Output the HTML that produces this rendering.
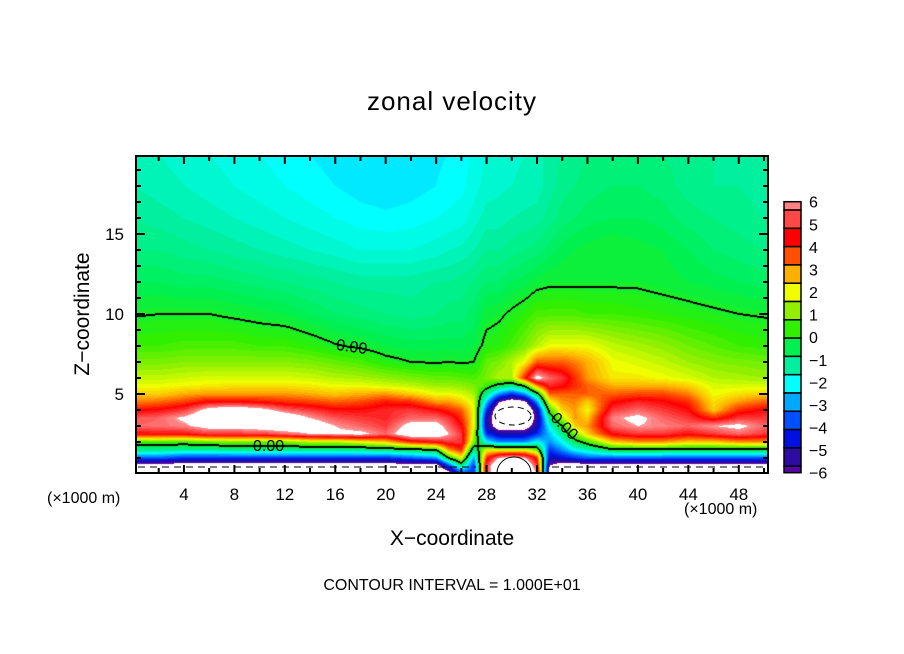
<!DOCTYPE html>
<html><head><meta charset="utf-8">
<style>
html,body{margin:0;padding:0;background:#fff;}
#wrap{position:relative;width:904px;height:654px;overflow:hidden;font-family:"Liberation Sans",sans-serif;color:#000;}
.t{position:absolute;white-space:nowrap;}
canvas{position:absolute;}
svg{position:absolute;left:0;top:0;}
</style></head>
<body>
<div id="wrap">
<div class="t" style="left:0;width:904px;text-align:center;top:86px;font-size:26px;letter-spacing:1px;">zonal velocity</div>
<canvas id="field" width="632" height="317" style="left:136px;top:156px;"></canvas>
<svg id="ov" width="904" height="654"></svg>
<div class="t" style="left:-5px;top:300px;width:180px;text-align:center;font-size:21px;transform:rotate(-90deg);transform-origin:90px 14px;">Z−coordinate</div>
<div class="t" style="left:0;width:904px;text-align:center;top:527px;font-size:21px;">X−coordinate</div>
<div class="t" style="left:47px;top:490px;font-size:16px;">(×1000 m)</div>
<div class="t" style="left:684px;top:501px;font-size:16px;">(×1000 m)</div>
<div class="t" style="left:0;width:904px;text-align:center;top:577px;font-size:16px;">CONTOUR INTERVAL = 1.000E+01</div>
<div class="t" style="left:336px;top:339px;font-size:16px;transform:rotate(8deg);">0.00</div>
<div class="t" style="left:253px;top:438px;font-size:16px;">0.00</div>
<div class="t" style="left:548px;top:418px;font-size:16px;transform:rotate(45deg);">0.00</div>
</div>
<script>
const xLevels=[0,2,4,6,8,10,12,14,16,18,20,22,24,25,26,27,28,29,30,31,32,33,34,35,36,38,40,42,44,46,48,50];
const zLevels=[0,0.5,1,1.5,2,2.5,3,3.5,4,4.5,5,5.5,6,7,8,10,12,14,16,18,20];
const u=[
[-8,-7,-3.5,-1,0.5,4.5,5.5,5.3,4.3,3.2,2.5,2,1.6,1,0.5,-0.05,-0.5,-0.9,-1.1,-1.3,-1.4],
[-8,-7,-3.5,-1,0.6,4.5,5.6,5.5,4.5,3.4,2.5,2,1.6,1,0.5,0,-0.5,-0.9,-1.2,-1.4,-1.5],
[-8,-7,-4,-1.2,0.5,4.5,5.8,6.2,5,3.8,2.8,2.1,1.7,1.1,0.6,0,-0.6,-1.0,-1.3,-1.5,-1.6],
[-8,-7,-4,-1.2,0.8,5,6.5,7,6.5,4.5,3,2.2,1.8,1.1,0.6,0,-0.6,-1.1,-1.4,-1.6,-1.7],
[-8,-7,-4,-1,1,5,6.5,7.5,7,4.5,3,2.3,1.8,1.1,0.6,-0.1,-0.7,-1.2,-1.5,-1.7,-1.8],
[-8,-7,-4,-1,1,5,6.8,7.5,6.5,4.3,3,2.3,1.8,1.1,0.5,-0.2,-0.8,-1.3,-1.6,-1.8,-1.9],
[-8,-7,-4,-1,1,5.5,7,7,5.5,4,3,2.3,1.8,1.1,0.5,-0.3,-0.9,-1.4,-1.7,-1.9,-2.0],
[-8,-7,-4,-1,1.5,6,6.8,6,5,3.8,2.8,2.2,1.7,1,0.3,-0.5,-1.0,-1.5,-1.8,-2.0,-2.1],
[-8,-7,-4,-1,1.5,6.2,6,5.3,4.5,3.5,2.6,2,1.5,0.8,0.05,-0.7,-1.1,-1.6,-1.9,-2.1,-2.2],
[-8,-7,-4,-1,2,6.3,5.5,5,4.5,3.7,2.8,2,1.4,0.6,-0.1,-0.8,-1.2,-1.7,-2.0,-2.2,-2.3],
[-8,-7,-4,-0.8,2.5,5.5,5,4.8,4.8,4.2,3,1.8,1.2,0.2,-0.3,-0.9,-1.2,-1.7,-2.05,-2.25,-2.3],
[-8,-7,-3.5,-0.5,4,7,6.5,5.5,5,4,2.5,1.6,1,0,-0.4,-1.0,-1.2,-1.7,-2.0,-2.2,-2.25],
[-8,-7,-3,0,4.5,7,6.5,5.5,4.5,3,2,1.3,0.8,-0.05,-0.4,-0.9,-1.1,-1.6,-1.9,-2.1,-2.15],
[-7,-4,0,3,5,6,5.5,5,4,3,2,1.3,0.8,0,-0.4,-0.8,-1.1,-1.5,-1.85,-2.0,-2.1],
[-4,-1,2,4,5,5,4.5,4,3.5,2.5,1.8,1.2,0.7,-0.05,-0.4,-0.8,-1.0,-1.45,-1.8,-1.95,-2.0],
[-4,-4,-3,-1,1,1.5,2,2,2,1.8,1.4,1,0.6,0,-0.3,-0.6,-0.9,-1.3,-1.6,-1.8,-1.85],
[5,5,4,2,-2,-4,-5,-5,-4,-2.5,-1,0.5,1,0.8,0.2,-0.2,-0.7,-1.1,-1.4,-1.6,-1.7],
[8,8,6,2,-3,-5,-7,-7.5,-7.5,-6,-3,-0.5,1.5,1,0.3,-0.1,-0.7,-1.1,-1.4,-1.55,-1.6],
[8,8,6.5,2,-3,-5,-7,-8,-8,-7,-4,-1,1.5,1.5,0.6,0.1,-0.5,-1.0,-1.3,-1.5,-1.55],
[8,8,6,2,-3,-5,-7,-8,-8,-6.5,-3,0,4,2,1,0.3,-0.4,-0.9,-1.25,-1.45,-1.5],
[6,5,4,1,-2,-4,-5,-5.5,-5,-3,-0.5,3,6.5,3.5,1.5,0.6,-0.2,-0.8,-1.2,-1.4,-1.4],
[-7,-6,-5,-4,-3,-2.5,-1.8,-0.8,0.5,2,3.5,4.8,5.5,3.5,2,0.6,-0.1,-0.6,-1,-1.2,-1.2],
[-8,-7,-4.5,-3,-2,-1,0,1.5,2.5,3,3.5,4.5,5,3.5,2,0.6,-0.1,-0.4,-0.8,-1.0,-1.1],
[-8,-7,-4,-2,-0.5,1,2.5,3,3,3.2,3.5,4,4,3.2,2,0.6,-0.1,-0.3,-0.7,-0.9,-1.0],
[-8,-7,-3.5,-1.5,0.5,2.5,3,2.5,2,2.5,3.5,3.5,3,2.8,2,0.5,-0.1,-0.2,-0.6,-0.8,-0.9],
[-8,-7,-3.5,-0.3,2.5,4.5,5.5,5.8,5,4.3,3.5,2.8,2.2,2,1.6,0.5,-0.1,-0.1,-0.5,-0.7,-0.8],
[-8,-7,-3.5,-0.3,3,5,6,6.3,5.5,4.8,3.7,2.8,2.2,1.8,1.4,0.4,-0.1,-0.2,-0.5,-0.7,-0.8],
[-8,-7,-3.5,-0.3,3,5,5.8,5.5,5,4.5,3.7,2.8,2,1.6,1.2,0.3,-0.2,-0.3,-0.6,-0.8,-0.9],
[-8,-7,-3.5,-0.4,2.5,4.5,5.5,5,4.5,4,3.2,2.5,1.8,1.3,0.9,0.2,-0.3,-0.5,-0.8,-1.0,-1.0],
[-8,-7,-3.5,-0.4,2.5,5,6,4,2.5,2.3,2,1.8,1.5,1.1,0.7,0.1,-0.4,-0.7,-0.9,-1.1,-1.1],
[-8,-7,-3.5,-0.4,3,5.5,6.3,5,4,3,2.3,1.8,1.4,1,0.5,0,-0.5,-0.8,-1,-1.1,-1.2],
[-8,-7,-3.5,-0.4,3,5,5.5,5,4.5,3.5,2.5,1.8,1.3,0.9,0.4,-0.05,-0.6,-0.9,-1.1,-1.2,-1.2]
];
const cbTicks=[6,5,4,3,2,1,0,-1,-2,-3,-4,-5,-6];
const xTicks=[4,8,12,16,20,24,28,32,36,40,44,48];
const zTicks=[5,10,15];

const stops=[[-6,[106,0,168]],[-5.2,[26,16,160]],[-4.4,[0,16,224]],[-3.6,[0,80,255]],[-2.8,[0,168,255]],[-2.0,[0,255,255]],[-1.2,[0,240,160]],[-0.4,[0,240,80]],[0.4,[48,240,0]],[1.2,[144,240,0]],[2.0,[240,255,0]],[2.8,[255,176,0]],[3.6,[255,80,0]],[4.4,[255,0,0]],[5.2,[255,72,72]],[6,[255,150,150]]];
function cmap(v){
  if(v>6||v<-6) return [255,255,255];
  v=Math.round(v*5)/5;
  for(let i=0;i<stops.length-1;i++){
    const a=stops[i],b=stops[i+1];
    if(v<=b[0]){const t=(v-a[0])/(b[0]-a[0]);return [0,1,2].map(k=>Math.round(a[1][k]+(b[1][k]-a[1][k])*t));}
  }
  return stops[stops.length-1][1];
}
function xPix(x){return 133.5+12.61*x;}
function zPix(z){return 474-16*z;}
function locate(arr,v){
  if(v<=arr[0]) return [0,0];
  for(let i=0;i<arr.length-1;i++){ if(v<=arr[i+1]) return [i,(v-arr[i])/(arr[i+1]-arr[i])]; }
  return [arr.length-2,1];
}
function field(x,z){
  const [i,tx]=locate(xLevels,x), [j,tz]=locate(zLevels,z);
  const a=u[i][j],b=u[i+1][j],c=u[i][j+1],d=u[i+1][j+1];
  return (a*(1-tx)+b*tx)*(1-tz)+(c*(1-tx)+d*tx)*tz;
}
const cv=document.getElementById('field'),ctx=cv.getContext('2d');
const W=cv.width,H=cv.height,img=ctx.createImageData(W,H);
const vals=new Float32Array(W*H);
for(let py=0;py<H;py++)for(let px=0;px<W;px++){
  const x=(136+px+0.5-133.5)/12.61, z=(474-(156+py+0.5))/16;
  vals[py*W+px]=field(x,z);
}
for(let p=0;p<W*H;p++){
  const px=p%W,py=(p/W)|0,v=vals[p];let c=cmap(v);
  let edge=false;
  for(const [dx,dy] of [[1,0],[0,1],[-1,0],[0,-1]]){
    const qx=px+dx,qy=py+dy;if(qx<0||qy<0||qx>=W||qy>=H)continue;
    if((vals[qy*W+qx]>=0)!==(v>=0)){edge=true;break;}
  }
  if(edge)c=[0,0,0];
  img.data[p*4]=c[0];img.data[p*4+1]=c[1];img.data[p*4+2]=c[2];img.data[p*4+3]=255;
}
ctx.putImageData(img,0,0);

const NS='http://www.w3.org/2000/svg',ov=document.getElementById('ov');
function mk(tag,attrs){const e=document.createElementNS(NS,tag);for(const k in attrs)e.setAttribute(k,attrs[k]);ov.appendChild(e);return e;}
const L=136,T=156,R=768,B=473;
for(let x=2;x<=50;x+=2){
  const px=xPix(x);if(px>R)continue;const len=(x%4===0)?8:5;
  const t1=mk('line',{x1:px,y1:B,x2:px,y2:B-len,stroke:'#000','stroke-width':2});
  
  
  const t2=mk('line',{x1:px,y1:T,x2:px,y2:T+len,stroke:'#000','stroke-width':2});
  
  
}
for(let z=1;z<=19;z++){
  const py=zPix(z);const len=(z%5===0)?9:5;
  const t1=mk('line',{x1:L,y1:py,x2:L+len,y2:py,stroke:'#000','stroke-width':2});
  
  
  const t2=mk('line',{x1:R,y1:py,x2:R-len,y2:py,stroke:'#000','stroke-width':2});
  
  
}
const dl=mk('line',{x1:L+2,y1:467,x2:476,y2:467,stroke:'#000','stroke-width':1,'stroke-dasharray':'7,5'});


const dr=mk('line',{x1:552,y1:467,x2:R-2,y2:467,stroke:'#000','stroke-width':1,'stroke-dasharray':'7,5'});


const de=mk('ellipse',{cx:513,cy:416,rx:18,ry:9,fill:'none',stroke:'#000','stroke-width':1,'stroke-dasharray':'6,4'});


const sc=mk('path',{d:'M497,473 A17,16 0 0 1 531,473',fill:'none',stroke:'#000','stroke-width':1});


const fr=mk('rect',{x:L,y:T,width:R-L,height:B-T,fill:'none',stroke:'#000','stroke-width':2});


xTicks.forEach(v=>{
  const t=mk('text',{x:xPix(v),y:500,'text-anchor':'middle','font-size':17,'font-family':'Liberation Sans, sans-serif'});
  t.textContent=v;
  
  
});
zTicks.forEach(v=>{
  const t=mk('text',{x:124,y:zPix(v)+6,'text-anchor':'end','font-size':17,'font-family':'Liberation Sans, sans-serif'});
  t.textContent=v;
  
  
});
const cbTop=201.7,cbBot=472.7,cbPer=(cbBot-cbTop)/12;
function cbY(v){return cbTop+(6-v)*cbPer;}
const bounds=[6,5.63];for(let k=1;k<=15;k++)bounds.push(5.63-0.81*k);bounds[bounds.length-1]=-6;
for(let k=0;k<bounds.length-1;k++){
  const y1=cbY(bounds[k]),y2=cbY(bounds[k+1]);
  const mid=(bounds[k]+bounds[k+1])/2;const c=cmap(Math.max(-5.99,Math.min(5.99,mid)));
  const r=mk('rect',{x:784,y:y1,width:17,height:y2-y1,fill:`rgb(${c[0]},${c[1]},${c[2]})`,stroke:'#000','stroke-width':1.5});
  
  
}
cbTicks.forEach(v=>{
  const t=mk('text',{x:809,y:cbY(v)+6,'font-size':16,'font-family':'Liberation Sans, sans-serif'});
  t.textContent=(v<0?'−'+(-v):String(v));
  
  
});
</script>
</body></html>
